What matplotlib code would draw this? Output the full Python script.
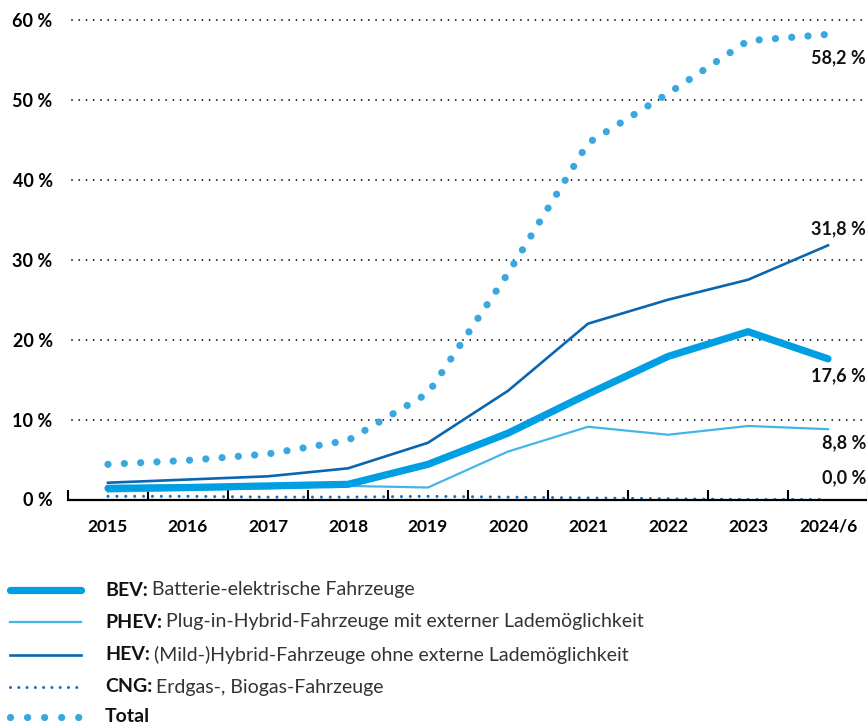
import matplotlib.pyplot as plt
import numpy as np

plt.rcParams['font.family'] = ['Lato', 'DejaVu Sans']

years = ['2015', '2016', '2017', '2018', '2019', '2020', '2021', '2022', '2023', '2024/6']
bev = [1.4, 1.5, 1.7, 1.9, 4.4, 8.3, 13.2, 17.9, 21.0, 17.6]
phev = [1.0, 1.2, 1.4, 1.7, 1.5, 6.0, 9.1, 8.1, 9.2, 8.8]
hev = [2.1, 2.5, 2.9, 3.9, 7.1, 13.6, 22.0, 25.0, 27.5, 31.8]
cng = [0.4, 0.4, 0.3, 0.3, 0.4, 0.3, 0.2, 0.1, 0.0, 0.0]
total = [4.4, 4.9, 5.7, 7.4, 13.3, 28.3, 44.6, 50.8, 57.4, 58.2]
yticks = [0, 10, 20, 30, 40, 50, 60]

names = ['BEV:', 'PHEV:', 'HEV:', 'CNG:', 'Total']
descr = ['Batterie-elektrische Fahrzeuge',
         'Plug-in-Hybrid-Fahrzeuge mit externer Lademöglichkeit',
         '(Mild-)Hybrid-Fahrzeuge ohne externe Lademöglichkeit',
         'Erdgas-, Biogas-Fahrzeuge',
         '']

c_bev = '#009fe3'
c_phev = '#45b5e8'
c_hev = '#0a66b0'
c_cng = '#1c6fb5'
c_tot = '#3aa8df'

# line styles per series
styles = [
    dict(color=c_bev, lw=5.2, ls='-', solid_capstyle='round'),
    dict(color=c_phev, lw=1.6, ls='-'),
    dict(color=c_hev, lw=1.9, ls='-'),
    dict(color=c_cng, lw=2.2, ls=(0, (0.01, 2.9)), dash_capstyle='round'),
    dict(color=c_tot, lw=5.2, ls=(0, (0.01, 2.25)), dash_capstyle='round'),
]

W, H = 867, 728
fig = plt.figure(figsize=(W / 100, H / 100), dpi=100)
ax = fig.add_axes([68 / W, 1 - 499.5 / H, 800 / W, 479.5 / H])

x = np.arange(len(years))
series = [bev, phev, hev, cng, total]
zorders = [4, 3, 3, 2, 5]
for s, st, z in zip(series, styles, zorders):
    ax.plot(x, s, zorder=z, clip_on=False, **st)

ax.set_xlim(-0.5, len(years) - 0.5)
ax.set_ylim(0, 60)

# dotted grid
for yv in yticks[1:]:
    ax.axhline(yv, xmin=0.005, color='black', lw=1.3, ls=(0, (0.01, 4)),
               dash_capstyle='round', zorder=1, clip_on=False)

for sp in ['left', 'right', 'top']:
    ax.spines[sp].set_visible(False)
ax.spines['bottom'].set_linewidth(1.6)
ax.spines['bottom'].set_zorder(6)

ax.set_xticks(x)
ax.set_xticklabels(years, fontsize=12.5, fontweight='bold')
ax.set_xticks(np.arange(len(years) + 1) - 0.5, minor=True)
ax.tick_params(axis='x', which='major', length=0, pad=14)
ax.tick_params(axis='x', which='minor', direction='in', length=7, width=1.5)

ax.set_yticks(yticks)
ax.set_yticklabels([f'{v} %' for v in yticks], fontsize=13, fontweight='bold')
ax.tick_params(axis='y', length=0, pad=11)

# end labels
def fmt(v):
    return f'{v:.1f}'.replace('.', ',') + ' %'

end_offsets = {'total': -17, 'hev': 12, 'bev': -12, 'phev': -10, 'cng': 16}
for key, s in [('total', total), ('hev', hev), ('bev', bev), ('phev', phev), ('cng', cng)]:
    ax.annotate(fmt(s[-1]), xy=(x[-1], s[-1]), xytext=(27.5, end_offsets[key]),
                textcoords='offset points', ha='right', va='center',
                fontsize=13, fontweight='bold', color='#111111', annotation_clip=False)

# legend drawn in pixel coordinates
lg = fig.add_axes([0, 0, 1, 1], zorder=-1)
lg.set_xlim(0, W)
lg.set_ylim(H, 0)
lg.axis('off')
rows = [590, 622, 655, 687, 717]
for name, d, st, yr in zip(names, descr, styles, rows):
    st2 = dict(st)
    if name == 'Total':
        st2['ls'] = (0, (0.01, 2.35))
    if name == 'CNG:':
        st2['ls'] = (0, (0.01, 2.7))
    lg.plot([10, 81], [yr, yr], **st2)
    t = lg.text(105, yr, name, fontsize=14, fontweight='bold', va='center',
                color='#111111')
    if d:
        lg.annotate(d, xy=(1, 0), xycoords=t, xytext=(3, 0),
                    textcoords='offset points', va='bottom', fontsize=14,
                    color='#333333')

fig.savefig('out.png', dpi=100)
